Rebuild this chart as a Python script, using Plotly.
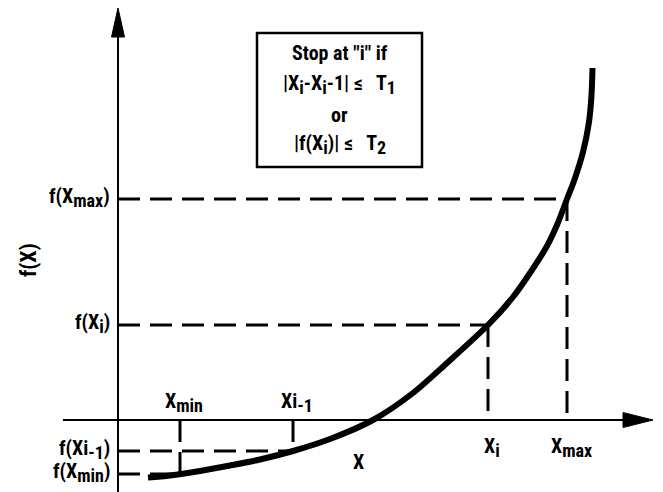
import plotly.graph_objects as go

# Function f(X) sampled along the curve
curve_x = [0.30, 0.52, 0.82, 1.12, 1.42, 1.75, 2.12, 2.55, 2.95, 3.29, 3.70, 3.95,
           4.12, 4.29, 4.39, 4.49, 4.56, 4.65, 4.71, 4.735, 4.745]
curve_y = [-0.575, -0.555, -0.51, -0.455, -0.395, -0.31, -0.19, 0.00, 0.27, 0.57, 0.95, 1.23,
           1.47, 1.74, 1.95, 2.21, 2.39, 2.68, 2.98, 3.25, 3.52]

# Marked abscissae and their function values
point_x = [0.62, 1.75, 3.70, 4.49]
point_f = [-0.54, -0.31, 0.95, 2.21]

SUB = "<sub><span style='font-size:18px'>{}</span></sub>"
x_tick_labels = ["X" + SUB.format("min"), "Xi" + SUB.format("-1"),
                 "X" + SUB.format("i"), "X" + SUB.format("max")]
y_tick_labels = ["f(X" + SUB.format("min") + ")", "f(Xi" + SUB.format("-1") + ")",
                 "f(X" + SUB.format("i") + ")", "f(X" + SUB.format("max") + ")"]

stop_rule = [
    'Stop at "i" if',
    "|X" + SUB.format("i") + "-X" + SUB.format("i") + "-1| \u2264   T" + SUB.format("1"),
    "or",
    "|f(X" + SUB.format("i") + ")| \u2264   T" + SUB.format("2"),
]

W, H = 663, 492
X_RANGE = [-1.18, 5.45]
Y_RANGE = [-0.72, 4.20]

FONT = "Noto Sans Condensed, Roboto Condensed, Liberation Sans Narrow, Liberation Sans, sans-serif"
INK = "black"
DASH = "22px,10px"

fig = go.Figure()

fig.add_trace(go.Scatter(
    x=curve_x, y=curve_y, mode="lines",
    line=dict(color=INK, width=6, shape="spline", smoothing=0.8),
    hoverinfo="skip", showlegend=False,
))

shapes = []

# Axes with arrowheads
shapes.append(dict(type="line", xref="x", yref="y", x0=0, x1=0, y0=Y_RANGE[0], y1=3.85,
                   line=dict(color=INK, width=2)))
shapes.append(dict(type="path", xref="x", yref="y",
                   path="M -0.065,3.83 L 0.0,4.12 L 0.065,3.83 Z",
                   fillcolor=INK, line=dict(color=INK, width=1)))
shapes.append(dict(type="line", xref="x", yref="y", x0=-0.55, x1=5.07, y0=0, y1=0,
                   line=dict(color=INK, width=2)))
shapes.append(dict(type="path", xref="x", yref="y",
                   path="M 5.05,0.075 L 5.35,0.0 L 5.05,-0.075 Z",
                   fillcolor=INK, line=dict(color=INK, width=1)))

# Dashed guide lines from each marked point to both axes
for px_, pf in zip(point_x, point_f):
    shapes.append(dict(type="line", xref="x", yref="y", x0=0, x1=px_, y0=pf, y1=pf,
                       line=dict(color=INK, width=3, dash=DASH)))
    v0, v1 = (pf, 0) if pf > 0 else (0, pf)
    shapes.append(dict(type="line", xref="x", yref="y", x0=px_, x1=px_, y0=v0, y1=v1,
                       line=dict(color=INK, width=3, dash=DASH)))

# Box holding the stopping rule
box_l, box_r, box_t, box_b = 257, 422, 33, 167
shapes.append(dict(type="rect", xref="paper", yref="paper",
                   x0=box_l / W, x1=box_r / W, y0=1 - box_b / H, y1=1 - box_t / H,
                   line=dict(color=INK, width=2.5), fillcolor="white", layer="below"))

annotations = []
font = dict(family=FONT, size=20, color=INK, weight="bold")

# Labels on the x axis
for lab, px_, pf in zip(x_tick_labels, point_x, point_f):
    above = pf < 0
    annotations.append(dict(
        x=px_, y=0, xref="x", yref="y", text=lab, showarrow=False,
        xanchor="center", yanchor="middle", xshift=4,
        yshift=18 if above else -27, font=font,
    ))

# Labels on the y axis
for lab, pf in zip(y_tick_labels, point_f):
    annotations.append(dict(
        x=0, y=pf, xref="x", yref="y", text=lab, showarrow=False,
        xanchor="right", yanchor="middle", xshift=-6, yshift=2, font=font,
    ))

annotations.append(dict(x=2.40, y=-0.42, xref="x", yref="y", text="X",
                        showarrow=False, font=font))
annotations.append(dict(x=-0.90, y=1.60, xref="x", yref="y", text="f(X)",
                        textangle=-90, showarrow=False, font=dict(font, size=22)))

# Stopping rule text
rule_rows = [53, 85, 115, 145]
for txt, ry in zip(stop_rule, rule_rows):
    annotations.append(dict(x=(box_l + box_r) / 2 / W, y=1 - ry / H, xref="paper", yref="paper",
                            text=txt, showarrow=False,
                            xanchor="center", yanchor="middle", font=font))

fig.update_layout(
    width=W, height=H,
    margin=dict(l=0, r=0, t=0, b=0),
    paper_bgcolor="white", plot_bgcolor="white",
    xaxis=dict(range=X_RANGE, visible=False, fixedrange=True),
    yaxis=dict(range=Y_RANGE, visible=False, fixedrange=True),
    shapes=shapes, annotations=annotations, showlegend=False,
)

fig.write_html("out.html")
